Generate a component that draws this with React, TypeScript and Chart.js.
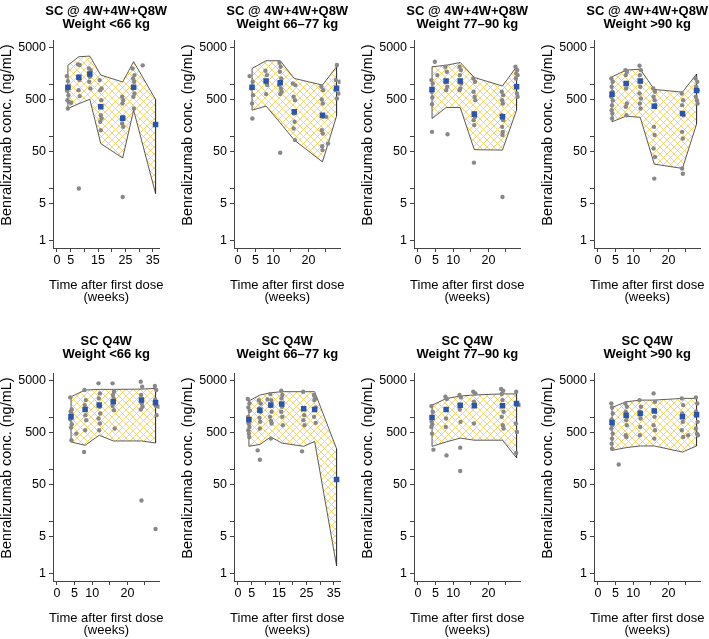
import React, { useEffect, useRef } from 'react';
import { Chart, registerables } from 'chart.js';

Chart.register(...registerables);

const FONT = '"Liberation Sans", Arial, Helvetica, sans-serif';

// ---------- data ----------
const doseTitles = ['SC @ 4W+4W+Q8W', 'SC @ 4W+4W+Q8W', 'SC @ 4W+4W+Q8W', 'SC @ 4W+4W+Q8W', 'SC Q4W', 'SC Q4W', 'SC Q4W', 'SC Q4W'];
const weightTitles = ['Weight <66 kg', 'Weight 66–77 kg', 'Weight 77–90 kg', 'Weight >90 kg', 'Weight <66 kg', 'Weight 66–77 kg', 'Weight 77–90 kg', 'Weight >90 kg'];

const xMaxTime = [36, 28, 28, 28, 28, 36, 28, 28];
const xTicks36 = [0, 5, 10, 15, 20, 25, 30, 35];
const xLabels36 = [0, 5, 15, 25, 35];
const xTicks28 = [0, 5, 10, 15, 20, 25];
const xLabels28 = [0, 5, 10, 20];

const yTicks = [1, 5, 10, 50, 100, 500, 1000, 5000];
const yLabels = [1, 5, 50, 500, 5000];

const times36 = [4, 8, 12, 16, 24, 28, 36];
const times28 = [4, 8, 12, 16, 24, 28];

const bandUpper = [
  [2300, 3355, 3450, 1490, 1100, 2700, 507],
  [2000, 2812, 2812, 1285, 957, 2154],
  [2154, 2300, 2600, 1340, 920, 2154],
  [1383, 1858, 1930, 790, 700, 1560],
  [2460, 3310, 3410, 3410, 3450, 3565],
  [2040, 2650, 2940, 3075, 3075, 3075, 248],
  [1690, 2270, 2540, 2660, 2790, 2790],
  [1532, 1970, 2120, 2120, 2290, 2290],
];

const bandLower = [
  [340, 420, 510, 72, 38, 316, 7.9],
  [316, 378, 180, 84, 32, 242],
  [218, 355, 355, 55, 54, 316],
  [189, 242, 230, 29, 24, 170],
  [333, 287, 448, 348, 348, 318],
  [275, 298, 416, 317, 275, 340, 1.39],
  [275, 333, 395, 360, 360, 165],
  [230, 259, 279, 279, 213, 279],
];

const medians = [
  [870, 1350, 1560, 366, 220, 870, 168],
  [870, 1150, 1060, 295, 253, 830],
  [790, 1150, 1150, 265, 235, 890],
  [640, 1030, 1150, 375, 273, 750],
  [1012, 1400, 1700, 1980, 2120, 1880],
  [890, 1360, 1700, 1780, 1450, 1400, 63],
  [980, 1400, 1690, 1660, 1660, 1830],
  [785, 1090, 1175, 1310, 1012, 1115],
];

const observed: number[][][] = [
  [[3.6,1425],[4.0,1142],[4.4,862],[3.7,745],[4.2,614],[3.8,492],[4.3,457],[4.0,340],[5.2,437],
   [7.7,2390],[8.3,2320],[7.8,1383],[8.2,1193],[7.9,766],[8.3,588],[8.0,9.9],
   [11.7,2000],[12.3,1858],[12.0,1383],[11.8,1108],[12.2,826],
   [15.6,1193],[16.3,826],[15.8,766],[16.2,492],[15.7,366],[16.0,253],[16.3,219],[15.8,189],[16.0,130],
   [23.8,571],[24.2,492],[23.9,425],[24.1,235],[23.8,175],[24.2,151],[24.0,6.8],
   [27.6,2000],[28.3,1490],[27.8,1285],[28.2,1108],[27.7,826],[28.3,662],[27.9,571],[28.1,340],
   [31.3,2290]],
  [[3.3,1425],[4.2,1108],[3.9,826],[4.3,614],[4.0,425],[4.1,219],
   [7.8,1805],[8.2,1490],[7.9,1108],[8.3,957],[8.0,643],
   [11.8,2570],[12.1,2154],[11.9,1725],[12.3,1285],[11.7,957],[12.2,826],[12.4,713],[12.0,643],[12.0,48],
   [15.6,1030],[16.3,957],[15.8,571],[16.2,492],[15.9,273],[16.1,189],[15.8,140],[16.2,84],
   [23.7,888],[24.2,766],[23.8,507],[24.1,425],[23.9,253],[24.2,235],[23.8,130],[24.1,112],[23.9,64],[24.0,54],
   [25.1,235],[25.6,72],
   [28.1,2320],[27.8,1193],[28.9,1108],[27.7,766],[28.6,662],[28.1,530]],
  [[3.8,1193],[4.2,1030],[3.9,713],[4.1,554],[4.0,412],[4.0,121],[4.8,2690],[5.5,1490],
   [7.8,2154],[8.2,1725],[7.9,1108],[8.3,888],[8.0,766],[8.4,109],
   [11.8,2154],[12.2,1858],[11.9,1490],[12.3,1030],[12.0,826],[11.8,766],
   [15.7,1285],[16.2,1108],[15.8,713],[16.1,571],[16.3,492],[15.9,273],[16.2,235],[15.8,203],[16.0,163],[15.9,31],
   [23.8,713],[24.2,614],[23.9,492],[24.1,425],[23.8,253],[24.2,203],[23.9,151],[24.1,121],[24.0,105],[24.0,6.8],
   [27.7,2154],[28.2,1858],[27.9,1603],[28.3,1490],[27.8,1285],[28.1,662],[28.3,571]],
  [[3.8,1285],[4.2,1108],[3.9,888],[4.1,713],[3.8,571],[4.2,492],[4.0,394],[3.9,316],[4.1,273],[4.0,219],
   [7.8,1858],[8.2,1725],[7.9,1490],[8.3,1030],[8.0,826],[8.2,425],[7.9,366],[8.1,253],
   [11.8,2250],[12.2,1858],[11.9,1490],[12.3,1108],[12.0,888],[11.8,662],[12.2,530],[11.9,425],[12.1,340],
   [15.7,826],[16.2,713],[15.8,571],[16.1,492],[16.3,394],[15.9,151],[16.1,105],[15.8,58],[16.2,40],[16.0,15.3],
   [23.8,662],[24.2,492],[23.9,394],[24.1,273],[24.3,253],[23.9,121],[24.1,90],[23.9,24],[24.1,19],
   [27.7,1285],[28.2,1108],[27.9,888],[28.3,766],[27.8,571],[28.1,492],[28.3,425]],
  [[3.8,2390],[4.2,1403],[3.9,1265],[4.1,1175],[3.8,899],[4.2,731],[4.0,630],[4.1,359],[5.5,482],
   [7.8,3310],[8.2,2120],[7.9,1700],[8.1,1090],[8.3,873],[8.0,560],[7.7,213],
   [11.8,4450],[12.2,2855],[11.9,2285],[12.1,1580],[12.3,1175],[11.8,940],[12.2,752],[12.0,560],
   [15.8,4450],[16.2,3075],[15.9,2650],[16.1,2285],[15.8,1625],[16.2,1360],[16.4,603],
   [23.8,4800],[24.2,3840],[23.9,2650],[24.1,1830],[24.3,1580],[23.8,1403],[24.0,25],
   [27.8,3955],[28.2,3310],[27.9,2187],[28.1,1625],[28.3,1090],[28.0,7.1],[29.0,1580]],
  [[3.6,2220],[4.2,1830],[3.8,1532],[4.3,1321],[3.7,1012],[4.1,873],[3.9,752],[4.2,649],[3.8,560],[4.0,482],[4.1,416],
   [7.6,2120],[8.3,1830],[7.8,1465],[8.2,1265],[7.9,968],[8.1,811],[8.0,603],[7.2,230],[8.0,152],
   [10.8,2187],
   [11.8,2770],[12.2,2120],[11.9,1625],[12.3,1265],[11.7,1012],[12.1,847],[12.3,752],[12.0,386],
   [15.8,3215],[16.2,2650],[15.9,2285],[16.1,1580],[15.8,1265],[16.2,1012],[16.4,699],
   [23.8,3075],[24.2,1090],[23.9,873],[24.3,699],[23.4,220],
   [27.7,2650],[28.2,2285],[27.9,2120],[28.3,1532],[27.8,1012],[28.4,775]],
  [[3.8,1625],[4.2,1265],[3.9,811],[4.1,731],[3.8,649],[4.0,482],[4.4,237],
   [7.8,2460],[8.2,2220],[8.0,940],[7.9,649],[8.1,184],
   [11.8,2650],[12.2,2390],[11.9,1403],[12.1,811],[12.0,259],[12.0,92],
   [15.7,3075],[16.3,2855],[15.9,1970],[16.1,1830],[15.9,752],
   [23.6,3456],[24.2,3215],[23.8,2770],[24.0,2120],[24.3,1265],[23.8,1012],[24.1,699],[24.3,603],
   [27.9,3075],[28.0,1700],[27.8,752],[28.1,520],[27.9,204],[29.0,1700]],
  [[3.8,1830],[4.0,1532],[4.2,1175],[3.9,899],[4.1,699],[3.8,603],[4.2,482],[4.0,386],[3.9,309],[4.0,248],[5.9,123],
   [7.8,1830],[8.2,1580],[7.9,1265],[8.3,1012],[8.0,873],[8.2,699],[7.9,448],[8.1,416],
   [11.8,2120],[12.2,1580],[11.9,1265],[12.1,940],[12.0,649],[11.9,448],
   [15.8,2855],[16.2,1970],[15.9,1360],[16.1,1012],[15.8,699],[16.2,560],[16.0,386],
   [23.8,2285],[24.2,1700],[23.9,1175],[24.1,811],[23.8,560],[24.2,416],[25.6,448],
   [27.8,2390],[28.2,1830],[27.9,1265],[28.3,811],[27.8,603],[28.1,482],[28.4,448]],
];

// ---------- layout ----------
const colPlotLeft = [53, 234, 414, 594];
const AXIS_W = 53;
const PLOT_W = 106.5;
const CANVAS_H = 306;
const PLOT_TOP = 40;
const PLOT_BOTTOM = 248;
const ROW_OFFSET = 333;
const Y_MIN = 0.7112;
const Y_MAX = 7031;

function makeHatch(): CanvasPattern | string {
  const s = 7;
  const c = document.createElement('canvas');
  c.width = s;
  c.height = s;
  const g = c.getContext('2d');
  if (!g) return 'rgba(240,205,90,0.3)';
  g.strokeStyle = 'rgba(243,205,90,0.9)';
  g.lineWidth = 0.9;
  g.beginPath();
  g.moveTo(-1, -1); g.lineTo(s + 1, s + 1);
  g.moveTo(-1, s + 1); g.lineTo(s + 1, -1);
  g.stroke();
  return g.createPattern(c, 'repeat') || 'rgba(240,205,90,0.3)';
}

function Panel({ idx }: { idx: number }) {
  const ref = useRef<HTMLCanvasElement | null>(null);
  const col = idx % 4;
  const row = Math.floor(idx / 4);
  const plotLeft = colPlotLeft[col];
  const left = plotLeft - AXIS_W;
  const width = col === 3 ? 168 : 177;

  useEffect(() => {
    if (!ref.current) return;
    const xmax = xMaxTime[idx];
    const times = xmax === 36 ? times36 : times28;
    const xt = xmax === 36 ? xTicks36 : xTicks28;
    const xl = xmax === 36 ? xLabels36 : xLabels28;
    const up = bandUpper[idx];
    const lo = bandLower[idx];
    const poly = [
      ...up.map((v, i) => ({ x: times[i], y: v })),
      ...lo.map((v, i) => ({ x: times[i], y: v })).reverse(),
      { x: times[0], y: up[0] },
    ];
    const medPts = medians[idx].map((v, i) => ({ x: times[i], y: v }));
    const obsPts = observed[idx].map((p) => ({ x: p[0], y: p[1] }));
    const hatch = makeHatch();

    const textPlugin = {
      id: 'panelText',
      afterDraw(chart: any) {
        const { ctx, chartArea } = chart;
        const cx = (chartArea.left + chartArea.right) / 2;
        ctx.save();
        ctx.fillStyle = '#000';
        ctx.textAlign = 'center';
        ctx.textBaseline = 'alphabetic';
        ctx.font = `bold 13px ${FONT}`;
        ctx.fillText(doseTitles[idx], cx, row === 0 ? 15 : 12);
        ctx.fillText(weightTitles[idx], cx, row === 0 ? 28 : 25);
        ctx.font = `13px ${FONT}`;
        ctx.fillText('Time after first dose', cx, 288.5);
        ctx.fillText('(weeks)', cx, 301);
        ctx.translate(chartArea.left - 42, 135);
        ctx.rotate(-Math.PI / 2);
        ctx.font = `14.5px ${FONT}`;
        ctx.fillText('Benralizumab conc. (ng/mL)', 0, 0);
        ctx.restore();
      },
    };

    const axisCommon = {
      grid: { display: true, drawOnChartArea: false, drawTicks: true, tickLength: 4, color: '#444', lineWidth: 1 },
      border: { display: true, color: '#444', width: 1 },
    };

    const chart = new Chart(ref.current, {
      type: 'scatter',
      data: {
        datasets: [
          {
            data: medPts,
            showLine: false,
            pointStyle: 'rect',
            pointRadius: 3.9,
            backgroundColor: '#2b55ac',
            borderWidth: 0,
            order: 0,
          },
          {
            data: obsPts,
            showLine: false,
            pointRadius: 2.2,
            backgroundColor: '#888888',
            borderWidth: 0,
            order: 1,
          },
          {
            data: poly,
            showLine: true,
            fill: 'shape',
            backgroundColor: hatch as any,
            borderColor: '#333',
            borderWidth: 0.8,
            pointRadius: 0,
            tension: 0,
            order: 2,
          },
        ],
      } as any,
      options: {
        animation: false,
        responsive: false,
        events: [],
        layout: { padding: { left: 0, right: width - AXIS_W - PLOT_W, top: PLOT_TOP, bottom: 0 } },
        plugins: { legend: { display: false }, tooltip: { enabled: false }, title: { display: false } },
        scales: {
          x: {
            type: 'linear',
            bounds: 'data',
            min: -0.04 * xmax,
            max: 1.04 * xmax,
            afterBuildTicks: (ax: any) => { ax.ticks = xt.map((v) => ({ value: v })); },
            afterFit: (ax: any) => { ax.height = CANVAS_H - PLOT_BOTTOM; },
            ticks: {
              autoSkip: false,
              maxRotation: 0,
              minRotation: 0,
              padding: 1,
              color: '#000',
              font: { family: FONT, size: 12.5 },
              callback: (v: any) => (xl.includes(Number(v)) ? String(v) : ''),
            },
            ...axisCommon,
          },
          y: {
            type: 'logarithmic',
            bounds: 'data',
            min: Y_MIN,
            max: Y_MAX,
            afterBuildTicks: (ax: any) => { ax.ticks = yTicks.map((v) => ({ value: v })); },
            afterFit: (ax: any) => { ax.width = AXIS_W; },
            ticks: {
              autoSkip: false,
              padding: 3,
              color: '#000',
              font: { family: FONT, size: 12.5 },
              callback: (v: any) => (yLabels.includes(Number(v)) ? String(v) : ''),
            },
            ...axisCommon,
          },
        },
      } as any,
      plugins: [textPlugin],
    });
    return () => chart.destroy();
  }, [idx]);

  return (
    <canvas
      ref={ref}
      width={width}
      height={CANVAS_H}
      style={{ position: 'absolute', left, top: row * ROW_OFFSET, width, height: CANVAS_H }}
    />
  );
}

export default function App() {
  return (
    <div style={{ position: 'absolute', left: 0, top: 0, width: 709, height: 639, background: '#fff', overflow: 'hidden' }}>
      {[0, 1, 2, 3, 4, 5, 6, 7].map((i) => (
        <Panel key={i} idx={i} />
      ))}
    </div>
  );
}
